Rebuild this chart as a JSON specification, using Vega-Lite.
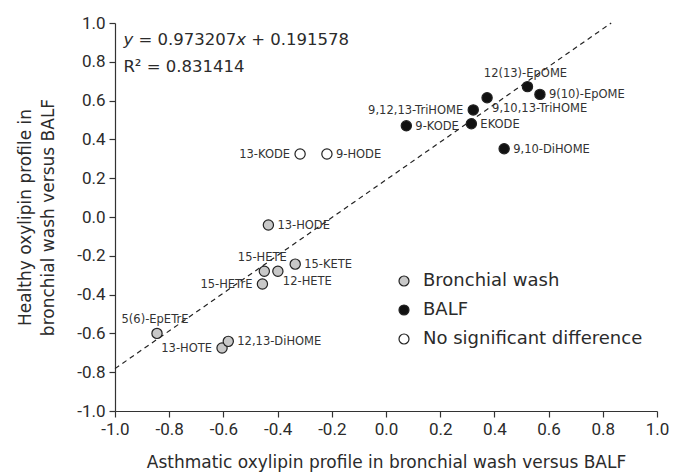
{
  "$schema": "https://vega.github.io/schema/vega-lite/v6.json",
  "autosize": "none",
  "width": 542,
  "height": 388,
  "padding": {"left": 115, "top": 23, "right": 16, "bottom": 64},
  "background": "white",
  "config": {
    "view": {"stroke": null},
    "font": "DejaVu Sans",
    "axis": {
      "grid": false,
      "domainColor": "#333",
      "domainWidth": 1.2,
      "tickColor": "#333",
      "tickWidth": 1.2,
      "tickSize": 6,
      "labelFont": "Roboto",
      "labelFontSize": 17,
      "labelColor": "#2b2b2b",
      "labelPadding": 4,
      "labelFlush": false,
      "labelOverlap": false,
      "titleFont": "DejaVu Sans",
      "titleFontSize": 17,
      "titleFontWeight": "normal",
      "titleColor": "#2b2b2b"
    }
  },
  "datasets": {
    "pts": [
      {"name": "12(13)-EpOME", "x": 0.522, "y": 0.672, "group": "BALF"},
      {"name": "9(10)-EpOME", "x": 0.568, "y": 0.632, "group": "BALF"},
      {"name": "9,10,13-TriHOME", "x": 0.373, "y": 0.615, "group": "BALF"},
      {"name": "9,12,13-TriHOME", "x": 0.322, "y": 0.552, "group": "BALF"},
      {"name": "EKODE", "x": 0.315, "y": 0.481, "group": "BALF"},
      {"name": "9-KODE", "x": 0.075, "y": 0.47, "group": "BALF"},
      {"name": "9,10-DiHOME", "x": 0.436, "y": 0.352, "group": "BALF"},
      {"name": "13-KODE", "x": -0.317, "y": 0.325, "group": "No significant difference"},
      {"name": "9-HODE", "x": -0.218, "y": 0.325, "group": "No significant difference"},
      {"name": "13-HODE", "x": -0.434, "y": -0.041, "group": "Bronchial wash"},
      {"name": "15-HETE", "x": -0.449, "y": -0.28, "group": "Bronchial wash"},
      {"name": "12-HETE", "x": -0.399, "y": -0.28, "group": "Bronchial wash"},
      {"name": "15-KETE", "x": -0.335, "y": -0.243, "group": "Bronchial wash"},
      {"name": "15-HETrE", "x": -0.456, "y": -0.345, "group": "Bronchial wash"},
      {"name": "5(6)-EpETrE", "x": -0.845, "y": -0.6, "group": "Bronchial wash"},
      {"name": "13-HOTE", "x": -0.605, "y": -0.675, "group": "Bronchial wash"},
      {"name": "12,13-DiHOME", "x": -0.582, "y": -0.641, "group": "Bronchial wash"}
    ],
    "fit": [
      {"x": -1.0, "y": -0.7816},
      {"x": 0.831, "y": 1.0}
    ],
    "eq": [
      {"x": -0.969, "y": 0.913}
    ],
    "notes": [
      {"label": "R² = 0.831414", "x": -0.969, "y": 0.774}
    ]
  },
  "encoding": {
    "x": {
      "field": "x", "type": "quantitative",
      "scale": {"domain": [-1, 1], "nice": false, "zero": false},
      "axis": {
        "title": "Asthmatic oxylipin profile in bronchial wash versus BALF",
        "values": [-1, -0.8, -0.6, -0.4, -0.2, 0, 0.2, 0.4, 0.6, 0.8, 1],
        "labelExpr": "replace(format(datum.value, '.1f'), '\u2212', '-')",
        "titlePadding": 17
      }
    },
    "y": {
      "field": "y", "type": "quantitative",
      "scale": {"domain": [-1, 1], "nice": false, "zero": false},
      "axis": {
        "title": ["Healthy oxylipin profile in", "bronchial wash versus BALF"],
        "values": [-1, -0.8, -0.6, -0.4, -0.2, 0, 0.2, 0.4, 0.6, 0.8, 1],
        "labelExpr": "replace(format(datum.value, '.1f'), '\u2212', '-')",
        "titlePadding": 19,
        "titleLineHeight": 23
      }
    }
  },
  "layer": [
    {
      "mark": {"type": "rule", "color": "#333", "strokeWidth": 1.2},
      "encoding": {"y": {"datum": 0}, "x": null}
    },
    {
      "mark": {"type": "rule", "color": "#333", "strokeWidth": 1.2},
      "encoding": {"x": {"datum": 0}, "y": null}
    },
    {
      "data": {"name": "fit"},
      "mark": {"type": "line", "color": "#222", "strokeWidth": 1.2, "strokeDash": [5, 4]}
    },
    {
      "data": {"name": "eq"},
      "mark": {"type": "text", "align": "left", "baseline": "middle", "fontSize": 16.5, "fontStyle": "italic", "color": "#2b2b2b", "font": "DejaVu Sans"},
      "encoding": {"text": {"value": "y"}}
    },
    {
      "data": {"name": "eq"},
      "mark": {"type": "text", "align": "left", "baseline": "middle", "dx": 15, "fontSize": 16.5, "color": "#2b2b2b", "font": "DejaVu Sans"},
      "encoding": {"text": {"value": "= 0.973207"}}
    },
    {
      "data": {"name": "eq"},
      "mark": {"type": "text", "align": "left", "baseline": "middle", "dx": 112.8, "fontSize": 16.5, "fontStyle": "italic", "color": "#2b2b2b", "font": "DejaVu Sans"},
      "encoding": {"text": {"value": "x"}}
    },
    {
      "data": {"name": "eq"},
      "mark": {"type": "text", "align": "left", "baseline": "middle", "dx": 127.8, "fontSize": 16.5, "color": "#2b2b2b", "font": "DejaVu Sans"},
      "encoding": {"text": {"value": "+ 0.191578"}}
    },
    {
      "data": {"name": "notes"},
      "mark": {"type": "text", "align": "left", "baseline": "middle", "fontSize": 16.5, "color": "#2b2b2b", "font": "DejaVu Sans"},
      "encoding": {"text": {"field": "label"}}
    },
    {
      "data": {"name": "pts"},
      "mark": {"type": "point", "filled": true, "size": 105, "stroke": "#222", "strokeWidth": 1.2, "opacity": 1},
      "encoding": {
        "fill": {
          "field": "group", "type": "nominal",
          "scale": {"domain": ["Bronchial wash", "BALF", "No significant difference"], "range": ["#c8c8c8", "#111111", "#ffffff"]},
          "legend": {
            "title": null,
            "orient": "none",
            "legendX": 280,
            "legendY": 249,
            "padding": 0,
            "symbolType": "circle",
            "symbolSize": 100,
            "symbolStrokeColor": "#222",
            "symbolStrokeWidth": 1.2,
            "labelFont": "DejaVu Sans",
            "labelFontSize": 18,
            "labelColor": "#2b2b2b",
            "labelOffset": 10,
            "rowPadding": 11,
            "labelLimit": 400
          }
        }
      }
    },
    {
      "data": {"name": "pts"},
      "transform": [{"filter": {"field": "name", "oneOf": ["9(10)-EpOME", "9-KODE", "EKODE", "9,10-DiHOME", "9-HODE", "13-HODE", "15-KETE", "12,13-DiHOME"]}}],
      "mark": {"type": "text", "align": "left", "baseline": "middle", "dx": 9, "dy": 1, "fontSize": 11.5, "color": "#333", "font": "DejaVu Sans"},
      "encoding": {"text": {"field": "name"}}
    },
    {
      "data": {"name": "pts"},
      "transform": [{"filter": {"field": "name", "oneOf": ["9,12,13-TriHOME", "13-KODE", "15-HETrE", "13-HOTE"]}}],
      "mark": {"type": "text", "align": "right", "baseline": "middle", "dx": -10, "dy": 1, "fontSize": 11.5, "color": "#333", "font": "DejaVu Sans"},
      "encoding": {"text": {"field": "name"}}
    },
    {
      "data": {"name": "pts"},
      "transform": [{"filter": {"field": "name", "oneOf": ["12(13)-EpOME", "15-HETE", "5(6)-EpETrE"]}}],
      "mark": {"type": "text", "align": "center", "baseline": "middle", "dx": -2, "dy": -13, "fontSize": 11.5, "color": "#333", "font": "DejaVu Sans"},
      "encoding": {"text": {"field": "name"}}
    },
    {
      "data": {"name": "pts"},
      "transform": [{"filter": {"field": "name", "oneOf": ["9,10,13-TriHOME", "12-HETE"]}}],
      "mark": {"type": "text", "align": "left", "baseline": "middle", "dx": 5, "dy": 11, "fontSize": 11.5, "color": "#333", "font": "DejaVu Sans"},
      "encoding": {"text": {"field": "name"}}
    }
  ]
}
